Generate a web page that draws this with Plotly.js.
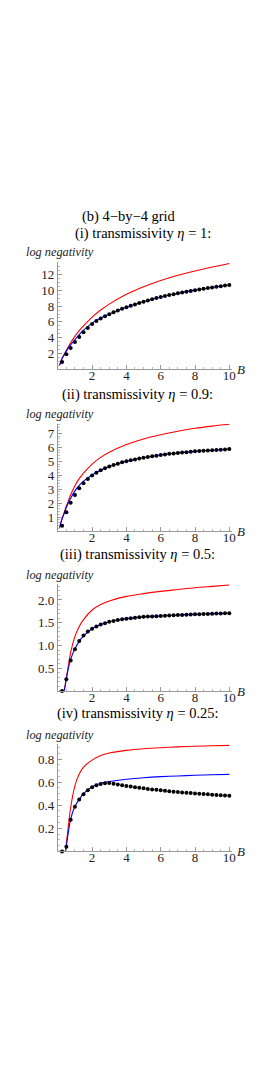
<!DOCTYPE html>
<html><head><meta charset="utf-8">
<script src="https://cdn.plot.ly/plotly-3.0.1.min.js"></script>
<style>html,body{margin:0;padding:0;background:#fff}#chart{width:269px;height:1074px}</style>
</head><body><div id="chart"></div>
<script>
// ---- data ----
const curveB = [0.1, 0.25, 0.35, 0.45, 0.5, 0.6, 0.75, 1, 1.25, 1.5, 2, 2.5, 3, 4, 5, 6, 7, 8, 9, 10];
const red1  = [0.5, 1.4, 1.8, 2.2, 2.4, 2.8, 3.35, 4.2, 4.9, 5.5, 6.6, 7.5, 8.25, 9.5, 10.45, 11.25, 11.9, 12.45, 12.95, 13.4];
const blue1 = [0.5, 1.35, 1.75, 2.12, 2.3, 2.65, 3.1, 3.75, 4.4, 4.95, 5.85, 6.5, 7.0, 7.85, 8.55, 9.15, 9.62, 10.02, 10.36, 10.67];
const red2  = [0.25, 0.9, 1.25, 1.62, 1.8, 2.12, 2.6, 3.25, 3.75, 4.15, 4.8, 5.28, 5.65, 6.2, 6.6, 6.9, 7.15, 7.36, 7.52, 7.65];
const blue2 = [0.25, 0.85, 1.18, 1.52, 1.7, 1.97, 2.35, 2.88, 3.27, 3.57, 4.02, 4.36, 4.62, 5.0, 5.25, 5.45, 5.59, 5.71, 5.79, 5.87];
const red3  = [0, 0, 0, 0.18, 0.3, 0.52, 0.85, 1.2, 1.42, 1.57, 1.78, 1.9, 1.98, 2.08, 2.14, 2.19, 2.23, 2.27, 2.3, 2.33];
const blue3 = [0, 0, 0, 0.16, 0.27, 0.47, 0.7, 0.93, 1.09, 1.21, 1.37, 1.46, 1.52, 1.59, 1.63, 1.65, 1.67, 1.685, 1.7, 1.71];
const red4  = [0, 0, 0, 0, 0.07, 0.2, 0.38, 0.57, 0.67, 0.73, 0.79, 0.83, 0.852, 0.875, 0.889, 0.898, 0.905, 0.91, 0.915, 0.918];
const blue4 = [0, 0, 0, 0, 0.05, 0.15, 0.28, 0.39, 0.45, 0.5, 0.56, 0.59, 0.605, 0.625, 0.638, 0.647, 0.653, 0.659, 0.663, 0.667];

const dotB = [0.25,0.5,0.75,1,1.25,1.5,1.75,2,2.25,2.5,2.75,3,3.25,3.5,3.75,4,4.25,4.5,4.75,5,
              5.25,5.5,5.75,6,6.25,6.5,6.75,7,7.25,7.5,7.75,8,8.25,8.5,8.75,9,9.25,9.5,9.75,10];
const dots1 = [0.92,1.9,2.7,3.45,4.1,4.68,5.23,5.73, 6.1,6.42,6.72,6.98,7.22,7.45,7.66,7.85,
               8.03,8.2,8.38,8.55,8.71,8.86,9.01,9.15, 9.27,9.39,9.51,9.62,9.72,9.82,9.92,10.02,
               10.11,10.2,10.28,10.36,10.44,10.52,10.6,10.67];
const dots2 = [0.38,1.34,2.03,2.58,3.06,3.42,3.72,3.98, 4.18,4.35,4.5,4.62,4.73,4.83,4.92,5.0,
               5.07,5.13,5.19,5.25,5.3,5.35,5.4,5.45, 5.49,5.53,5.56,5.59,5.62,5.65,5.68,5.71,
               5.73,5.75,5.77,5.79,5.81,5.83,5.85,5.87];
const dots3 = [0,0.26,0.67,0.92,1.1,1.22,1.31,1.37, 1.42,1.46,1.49,1.52,1.54,1.56,1.575,1.59,
               1.6,1.61,1.62,1.63,1.635,1.64,1.645,1.65, 1.655,1.66,1.665,1.67,1.673,1.676,1.68,1.685,
               1.688,1.69,1.695,1.7,1.702,1.705,1.708,1.71];
const dots4 = [0,0.04,0.275,0.387,0.45,0.494,0.53,0.555, 0.572,0.583,0.59,0.592,0.586,0.58,0.573,0.567,
               0.561,0.556,0.551,0.546,0.541,0.537,0.533,0.529, 0.525,0.521,0.517,0.514,0.511,0.508,0.505,0.502,
               0.499,0.496,0.494,0.491,0.489,0.487,0.484,0.482];

const xTicks = [2, 4, 6, 8, 10];
const yTicks1 = [2, 4, 6, 8, 10, 12];
const yTicks2 = [1, 2, 3, 4, 5, 6, 7];
const yTicks3 = [0.5, 1.0, 1.5, 2.0];
const yTickText3 = ['0.5', '1.0', '1.5', '2.0'];
const yTicks4 = [0.2, 0.4, 0.6, 0.8];
const yTickText4 = ['0.2', '0.4', '0.6', '0.8'];

const mainTitle = '(b) 4\u2212by\u22124 grid';
const panelTitles = [
  '(i) transmissivity <i>\u03b7</i> = 1:',
  '(ii) transmissivity <i>\u03b7</i> = 0.9:',
  '(iii) transmissivity <i>\u03b7</i> = 0.5:',
  '(iv) transmissivity <i>\u03b7</i> = 0.25:'
];
const yLabel = 'log negativity';
const xLabel = 'B';

// ---- layout ----
const W = 269, H = 1074;
const px = v => v / W, py = v => 1 - v / H;
const FONT = '"Liberation Serif", "Times New Roman", "DejaVu Serif", serif';
const x0 = 57.8, xs = 17.15, xmax = 10.15;

const panels = [
  {red: red1, blue: blue1, dots: dots1, yb: 369.3, range: [0, 13.6], ppu: 7.9, tv: yTicks1, tt: yTicks1.map(String), minor: 0.5, titleY: 233.3, titleX: 143},
  {red: red2, blue: blue2, dots: dots2, yb: 531.0, range: [0, 7.7], ppu: 13.95, tv: yTicks2, tt: yTicks2.map(String), minor: 0.2, titleY: 394, titleX: 137},
  {red: red3, blue: blue3, dots: dots3, yb: 691.0, range: [0, 2.35], ppu: 45.5, tv: yTicks3, tt: yTickText3, minor: 0.1, titleY: 554.5, titleX: 137},
  {red: red4, blue: blue4, dots: dots4, yb: 851.4, range: [0, 0.927], ppu: 115.5, tv: yTicks4, tt: yTickText4, minor: 0.05, titleY: 713.5, titleX: 138}
];

const traces = [];
const layout = {
  width: W, height: H, margin: {l: 0, r: 0, t: 0, b: 0},
  paper_bgcolor: '#fff', plot_bgcolor: 'rgba(0,0,0,0)',
  showlegend: false, font: {family: FONT, size: 12, color: '#222'},
  annotations: []
};

layout.annotations.push({text: mainTitle, xref: 'paper', yref: 'paper', x: px(128.5), y: py(216), xanchor: 'center', yanchor: 'middle', showarrow: false, font: {family: FONT, size: 14.5, color: '#000'}});

panels.forEach((p, i) => {
  const n = i + 1;
  const xa = n === 1 ? 'x' : 'x' + n;
  const ya = n === 1 ? 'y' : 'y' + n;
  const ytop = p.yb - (p.range[1] - p.range[0]) * p.ppu;
  traces.push({x: curveB, y: p.red, xaxis: xa, yaxis: ya, mode: 'lines', line: {color: '#ff0000', width: 1.1, shape: 'spline', smoothing: 0.8}, hoverinfo: 'skip', cliponaxis: false});
  traces.push({x: curveB, y: p.blue, xaxis: xa, yaxis: ya, mode: 'lines', line: {color: '#0000ff', width: 1.1, shape: 'spline', smoothing: 0.8}, hoverinfo: 'skip', cliponaxis: false});
  traces.push({x: dotB, y: p.dots, xaxis: xa, yaxis: ya, mode: 'markers', marker: {color: '#000', size: 4}, hoverinfo: 'skip', cliponaxis: false});

  layout['xaxis' + (n === 1 ? '' : n)] = {
    domain: [px(x0), px(x0 + xs * xmax)], range: [0, xmax], anchor: ya,
    showline: true, linecolor: '#999', linewidth: 1, showgrid: false, zeroline: false,
    tickmode: 'array', tickvals: xTicks, ticktext: xTicks.map(String),
    ticks: 'inside', ticklen: 4, tickcolor: '#999', tickwidth: 1,
    ticklabelstandoff: -6,
    minor: {ticks: 'inside', ticklen: 2, tickcolor: '#bbb', dtick: 0.5, tick0: 0, showgrid: false},
    tickfont: {family: FONT, size: 13, color: '#222'}, fixedrange: true
  };
  layout['yaxis' + (n === 1 ? '' : n)] = {
    domain: [py(p.yb), py(ytop)], range: p.range, anchor: xa,
    showline: true, linecolor: '#999', linewidth: 1, showgrid: false, zeroline: false,
    tickmode: 'array', tickvals: p.tv, ticktext: p.tt,
    ticks: 'inside', ticklen: 4, tickcolor: '#999', tickwidth: 1,
    minor: {ticks: 'inside', ticklen: 2, tickcolor: '#bbb', dtick: p.minor, tick0: 0, showgrid: false},
    tickfont: {family: FONT, size: 13, color: '#222'}, fixedrange: true
  };

  layout.annotations.push({text: panelTitles[i], xref: 'paper', yref: 'paper', x: px(p.titleX), y: py(p.titleY), xanchor: 'center', yanchor: 'middle', showarrow: false, font: {family: FONT, size: 14.5, color: '#000'}});
  layout.annotations.push({text: '<i>' + yLabel + '</i>', xref: 'paper', yref: 'paper', x: px(24), y: py(ytop - 9.5), xanchor: 'left', yanchor: 'middle', showarrow: false, font: {family: FONT, size: 12.3, color: '#222'}});
  layout.annotations.push({text: '<i>' + xLabel + '</i>', xref: 'paper', yref: 'paper', x: px(241), y: py(p.yb + 0.5), xanchor: 'center', yanchor: 'middle', showarrow: false, font: {family: FONT, size: 13, color: '#222'}});
});

Plotly.newPlot('chart', traces, layout, {staticPlot: true, displayModeBar: false});
</script>
</body></html>
